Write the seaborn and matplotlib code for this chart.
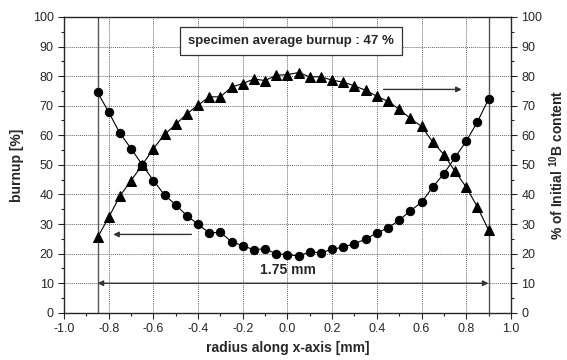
import numpy as np
import pandas as pd
import matplotlib
matplotlib.use("Agg")
import matplotlib.pyplot as plt
import seaborn as sns
from matplotlib.ticker import MultipleLocator

# Data
radius = [-0.85, -0.80, -0.75, -0.70, -0.65, -0.60, -0.55, -0.50, -0.45, -0.40,
          -0.35, -0.30, -0.25, -0.20, -0.15, -0.10, -0.05, 0.00, 0.05, 0.10,
          0.15, 0.20, 0.25, 0.30, 0.35, 0.40, 0.45, 0.50, 0.55, 0.60,
          0.65, 0.70, 0.75, 0.80, 0.85, 0.90]
burnup = [74.5, 67.8, 60.7, 55.5, 50.0, 44.7, 39.8, 36.5, 32.8, 29.9,
          27.0, 27.2, 24.0, 22.7, 21.3, 21.7, 19.9, 19.7, 19.2, 20.6,
          20.3, 21.5, 22.2, 23.4, 24.9, 27.0, 28.7, 31.3, 34.5, 37.3,
          42.5, 47.0, 52.5, 58.0, 64.5, 72.2]
b10_content = [25.5, 32.3, 39.5, 44.7, 50.0, 55.5, 60.3, 63.7, 67.3, 70.2,
               73.0, 73.0, 76.3, 77.5, 79.0, 78.5, 80.3, 80.5, 81.2, 79.7,
               79.8, 78.6, 78.0, 76.7, 75.2, 73.2, 71.5, 68.8, 65.7, 63.0,
               57.8, 53.5, 47.8, 42.5, 35.8, 28.0]

df = pd.DataFrame({"radius": radius, "burnup": burnup, "b10": b10_content})

sns.set_style("ticks")
plt.rcParams['font.family'] = ['Liberation Sans', 'DejaVu Sans']

fig, ax = plt.subplots(figsize=(5.67, 3.6), dpi=100)
fig.subplots_adjust(left=0.113, right=0.901, top=0.953, bottom=0.131)

sns.lineplot(data=df, x="radius", y="burnup", ax=ax, color="black", lw=0.8,
             marker="o", markersize=6, markeredgecolor="black", zorder=3)
sns.lineplot(data=df, x="radius", y="b10", ax=ax, color="black", lw=0.8,
             marker="^", markersize=7, markeredgecolor="black", zorder=3)

ax.set_xlim(-1.0, 1.0)
ax.set_ylim(0, 100)
ax.xaxis.set_major_locator(MultipleLocator(0.2))
ax.xaxis.set_minor_locator(MultipleLocator(0.1))
ax.yaxis.set_major_locator(MultipleLocator(10))
ax.yaxis.set_minor_locator(MultipleLocator(5))
ax.set_xticklabels([f"{v:.1f}" for v in ax.get_xticks()])
ax.grid(True, which="major", color="#666666", linestyle=(0, (1, 1)), lw=0.7)
ax.tick_params(which="both", direction="out", labelsize=9, width=0.8)
ax.tick_params(which="major", length=4)
ax.tick_params(which="minor", length=2.5)
for s in ax.spines.values():
    s.set_linewidth(0.9)
    s.set_color("black")

ax.set_xlabel("radius along x-axis [mm]", fontsize=10, fontweight="bold")
ax.set_ylabel("burnup [%]", fontsize=10, fontweight="bold", labelpad=6)

ax2 = ax.twinx()
ax2.set_ylim(0, 100)
ax2.yaxis.set_major_locator(MultipleLocator(10))
ax2.yaxis.set_minor_locator(MultipleLocator(5))
ax2.tick_params(which="both", direction="out", labelsize=9, width=0.8)
ax2.tick_params(which="major", length=4)
ax2.tick_params(which="minor", length=2.5)
ax2.set_ylabel(r"% of Initial $\mathregular{^{10}}$B content", fontsize=10,
               fontweight="bold", labelpad=4)

# specimen edges
ax.axvline(-0.85, color="#555555", lw=1.0, zorder=2)
ax.axvline(0.90, color="#555555", lw=1.0, zorder=2)

# diameter arrow
ax.annotate("", xy=(-0.85, 10), xytext=(0.90, 10),
            arrowprops=dict(arrowstyle="<|-|>", color="#333333", lw=1.0,
                            mutation_scale=8, shrinkA=0, shrinkB=0))
ax.text(0.0, 14.5, "1.75 mm", ha="center", va="center", fontsize=10, fontweight="bold")

# axis pointer arrows
ax.annotate("", xy=(-0.78, 26.5), xytext=(-0.43, 26.5),
            arrowprops=dict(arrowstyle="-|>", color="#333333", lw=1.0,
                            mutation_scale=8, shrinkA=0, shrinkB=0))
ax.annotate("", xy=(0.78, 75.5), xytext=(0.43, 75.5),
            arrowprops=dict(arrowstyle="-|>", color="#333333", lw=1.0,
                            mutation_scale=8, shrinkA=0, shrinkB=0))

ax.text(0.015, 92, "specimen average burnup : 47 %", ha="center", va="center",
        fontsize=9.5, fontweight="bold",
        bbox=dict(boxstyle="square,pad=0.6", facecolor="white", edgecolor="#333333", lw=0.9),
        zorder=5)

fig.savefig("out.png", dpi=100)
